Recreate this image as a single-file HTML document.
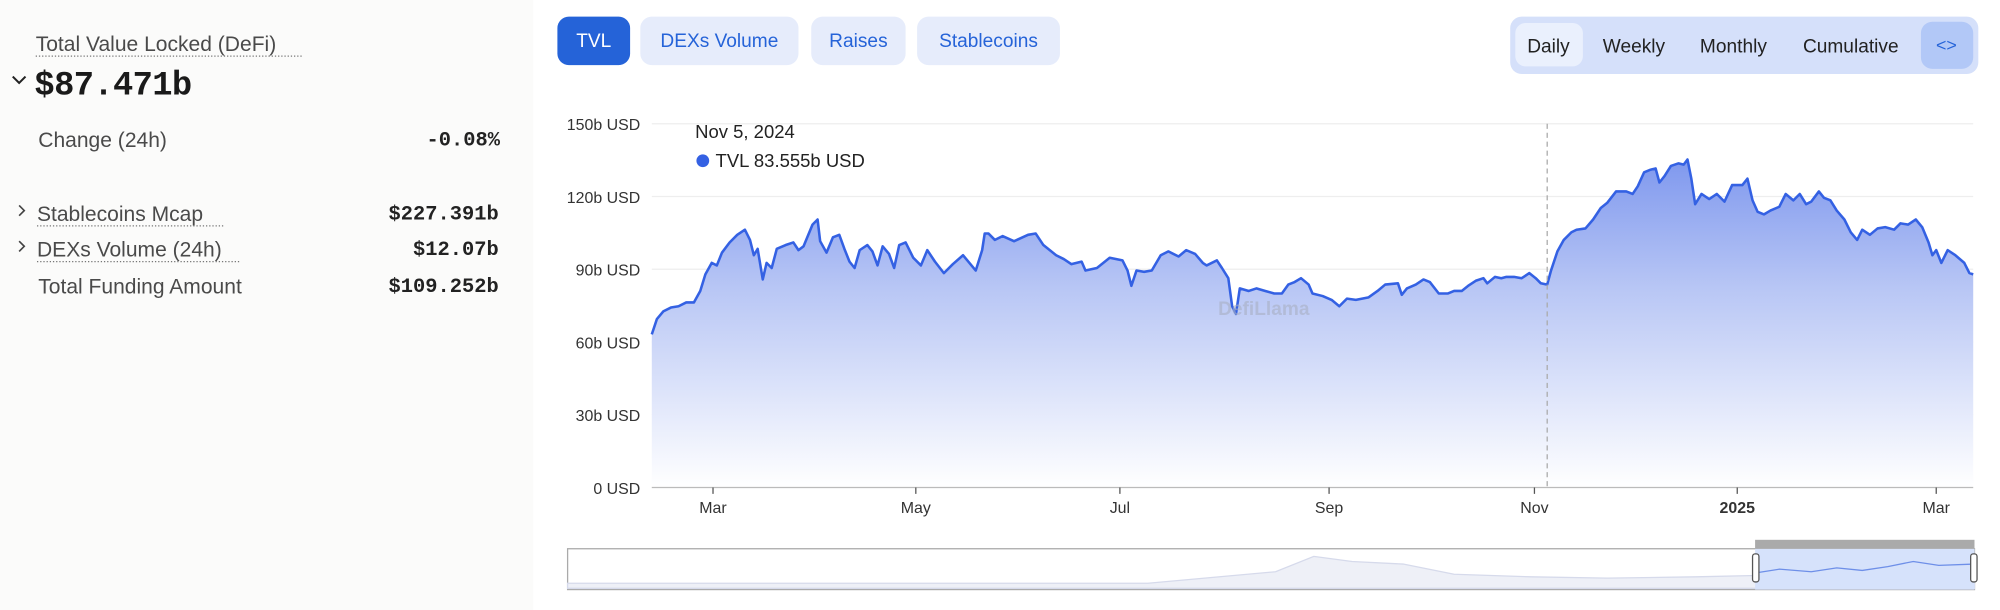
<!DOCTYPE html>
<html><head><meta charset="utf-8"><style>
html,body{margin:0;padding:0;background:#fff;width:2000px;height:610px;overflow:hidden}
svg{display:block}
text{font-family:"Liberation Sans",sans-serif}
.m{font-family:"Liberation Mono",monospace;font-weight:bold}
</style></head><body>
<svg width="2000" height="610" viewBox="0 0 1568 478" preserveAspectRatio="none">
<defs>
<linearGradient id="g" x1="0" y1="0" x2="0" y2="1">
<stop offset="0" stop-color="#7f98ee"/>
<stop offset="0.4" stop-color="#b9c7f5"/>
<stop offset="1" stop-color="#ffffff"/>
</linearGradient>
</defs>
<rect x="0" y="0" width="418" height="478" fill="#fbfbfa"/>
<text x="28" y="40" font-size="16.5" fill="#4a4a4a">Total Value Locked (DeFi)</text>
<line x1="28" y1="44" x2="237" y2="44" stroke="#777" stroke-dasharray="1,1.5"/>
<path d="M10 60 L15 65 L20 60" fill="none" stroke="#222" stroke-width="1.6"/>
<text x="27" y="74" font-size="26.5" class="m" fill="#1a1a1a" letter-spacing="-0.5">$87.471b</text>
<text x="30" y="115" font-size="16.5" fill="#4a4a4a">Change (24h)</text>
<text x="392" y="114" font-size="16" class="m" text-anchor="end" fill="#222">-0.08%</text>
<path d="M15 161 L19 165 L15 169" fill="none" stroke="#444" stroke-width="1.3"/>
<text x="29" y="173" font-size="16.5" fill="#4a4a4a">Stablecoins Mcap</text>
<line x1="29" y1="177" x2="175" y2="177" stroke="#777" stroke-dasharray="1,1.5"/>
<text x="391" y="172" font-size="16" class="m" text-anchor="end" fill="#222">$227.391b</text>
<path d="M15 189 L19 193 L15 197" fill="none" stroke="#444" stroke-width="1.3"/>
<text x="29" y="201" font-size="16.5" fill="#4a4a4a">DEXs Volume (24h)</text>
<line x1="29" y1="205" x2="188" y2="205" stroke="#777" stroke-dasharray="1,1.5"/>
<text x="391" y="200" font-size="16" class="m" text-anchor="end" fill="#222">$12.07b</text>
<text x="30" y="230" font-size="16.5" fill="#4a4a4a">Total Funding Amount</text>
<text x="391" y="229" font-size="16" class="m" text-anchor="end" fill="#222">$109.252b</text>
<rect x="437" y="13" width="57" height="38" rx="9" fill="#2563d8"/>
<text x="465.5" y="37" font-size="15" fill="#fff" text-anchor="middle">TVL</text>
<rect x="502" y="13" width="124" height="38" rx="9" fill="#e6ecfb"/>
<text x="564" y="37" font-size="15" fill="#2563d8" text-anchor="middle">DEXs Volume</text>
<rect x="636" y="13" width="74" height="38" rx="9" fill="#e6ecfb"/>
<text x="673" y="37" font-size="15" fill="#2563d8" text-anchor="middle">Raises</text>
<rect x="719" y="13" width="112" height="38" rx="9" fill="#e6ecfb"/>
<text x="775" y="37" font-size="15" fill="#2563d8" text-anchor="middle">Stablecoins</text>
<rect x="1184" y="13" width="367" height="45" rx="9" fill="#d5e0fa"/>
<rect x="1188" y="18" width="53" height="34" rx="8" fill="#eaf0fd"/>
<text x="1214" y="41" font-size="15" fill="#222" text-anchor="middle">Daily</text>
<text x="1281" y="41" font-size="15" fill="#222" text-anchor="middle">Weekly</text>
<text x="1359" y="41" font-size="15" fill="#222" text-anchor="middle">Monthly</text>
<text x="1451" y="41" font-size="15" fill="#222" text-anchor="middle">Cumulative</text>
<rect x="1506" y="17" width="41" height="37" rx="9" fill="#b2c8f7"/>
<text x="1526" y="40" font-size="14" fill="#2563d8" text-anchor="middle">&lt;&gt;</text>
<g stroke="#eeeeee" stroke-width="1">
<line x1="511" y1="97" x2="1547" y2="97"/><line x1="511" y1="154" x2="1547" y2="154"/>
<line x1="511" y1="211" x2="1547" y2="211"/><line x1="511" y1="268" x2="1547" y2="268"/>
<line x1="511" y1="325" x2="1547" y2="325"/>
</g>
<g font-size="12.5" fill="#333" text-anchor="end">
<text x="502" y="102">150b USD</text><text x="502" y="159">120b USD</text>
<text x="502" y="216">90b USD</text><text x="502" y="273">60b USD</text>
<text x="502" y="330">30b USD</text><text x="502" y="387">0 USD</text>
</g>
<path fill="url(#g)" stroke="none" d="M511,382 L511,262 515,250 520,244 526,241 532,240 538,237 544,237 549,228 553,215 558,206 562,208 566,198 572,190 578,184 584,180 588,188 591,200 594,195 598,219 601,206 605,210 609,195 616,192 622,190 626,196 630,193 637,176 641,172 643,189 648,198 653,186 658,184 662,195 666,205 670,210 674,196 680,192 684,197 688,208 692,193 697,199 701,210 705,192 710,190 716,202 722,208 727,196 733,205 740,214 747,207 755,200 765,212 770,196 772,183 775,183 780,188 786,185 795,189 806,184 812,183 818,192 828,200 834,203 840,207 848,205 851,212 860,210 870,202 880,204 884,212 887,224 891,212 897,213 903,212 910,200 916,197 924,201 930,196 937,199 943,206 946,208 954,204 958,210 963,218 966,240 969,246 972,226 979,228 985,226 992,228 999,230 1005,230 1010,223 1015,221 1020,218 1026,223 1029,230 1037,232 1044,235 1050,240 1056,234 1063,235 1073,233 1080,228 1086,223 1096,222 1099,231 1103,226 1110,223 1116,219 1121,221 1128,230 1135,230 1140,228 1146,228 1151,224 1157,220 1163,218 1166,222 1172,217 1177,218 1181,217 1187,217 1193,218 1199,214 1204,218 1208,222 1213,223 1216,212 1221,197 1226,188 1232,182 1236,180 1243,179 1249,172 1255,163 1260,159 1267,150 1275,150 1280,152 1284,146 1289,135 1294,133 1298,132 1301,143 1305,138 1310,130 1316,128 1320,129 1323,125 1326,140 1329,160 1334,152 1340,156 1346,152 1352,158 1358,145 1366,145 1370,140 1374,157 1378,166 1383,168 1388,165 1395,162 1400,152 1406,157 1411,152 1416,160 1420,158 1426,150 1430,155 1435,157 1440,165 1446,172 1451,182 1456,188 1460,180 1466,184 1472,179 1478,178 1485,180 1490,175 1496,176 1502,172 1507,178 1512,190 1515,200 1518,196 1522,206 1527,196 1533,200 1540,206 1544,214 1547,215 L1547,382 Z"/>
<polyline fill="none" stroke="#3461e3" stroke-width="2" stroke-linejoin="round" points="511,262 515,250 520,244 526,241 532,240 538,237 544,237 549,228 553,215 558,206 562,208 566,198 572,190 578,184 584,180 588,188 591,200 594,195 598,219 601,206 605,210 609,195 616,192 622,190 626,196 630,193 637,176 641,172 643,189 648,198 653,186 658,184 662,195 666,205 670,210 674,196 680,192 684,197 688,208 692,193 697,199 701,210 705,192 710,190 716,202 722,208 727,196 733,205 740,214 747,207 755,200 765,212 770,196 772,183 775,183 780,188 786,185 795,189 806,184 812,183 818,192 828,200 834,203 840,207 848,205 851,212 860,210 870,202 880,204 884,212 887,224 891,212 897,213 903,212 910,200 916,197 924,201 930,196 937,199 943,206 946,208 954,204 958,210 963,218 966,240 969,246 972,226 979,228 985,226 992,228 999,230 1005,230 1010,223 1015,221 1020,218 1026,223 1029,230 1037,232 1044,235 1050,240 1056,234 1063,235 1073,233 1080,228 1086,223 1096,222 1099,231 1103,226 1110,223 1116,219 1121,221 1128,230 1135,230 1140,228 1146,228 1151,224 1157,220 1163,218 1166,222 1172,217 1177,218 1181,217 1187,217 1193,218 1199,214 1204,218 1208,222 1213,223 1216,212 1221,197 1226,188 1232,182 1236,180 1243,179 1249,172 1255,163 1260,159 1267,150 1275,150 1280,152 1284,146 1289,135 1294,133 1298,132 1301,143 1305,138 1310,130 1316,128 1320,129 1323,125 1326,140 1329,160 1334,152 1340,156 1346,152 1352,158 1358,145 1366,145 1370,140 1374,157 1378,166 1383,168 1388,165 1395,162 1400,152 1406,157 1411,152 1416,160 1420,158 1426,150 1430,155 1435,157 1440,165 1446,172 1451,182 1456,188 1460,180 1466,184 1472,179 1478,178 1485,180 1490,175 1496,176 1502,172 1507,178 1512,190 1515,200 1518,196 1522,206 1527,196 1533,200 1540,206 1544,214 1547,215"/>
<text x="955" y="247" font-size="15" font-weight="bold" fill="#a9b0c4" opacity="0.6">DefiLlama</text>
<line x1="1213" y1="97" x2="1213" y2="382" stroke="#aaa" stroke-dasharray="4,3"/>
<line x1="511" y1="382" x2="1547" y2="382" stroke="#bbb"/>
<g stroke="#555"><line x1="559" y1="382" x2="559" y2="387"/><line x1="718" y1="382" x2="718" y2="387"/><line x1="878" y1="382" x2="878" y2="387"/><line x1="1042" y1="382" x2="1042" y2="387"/><line x1="1203" y1="382" x2="1203" y2="387"/><line x1="1362" y1="382" x2="1362" y2="387"/><line x1="1518" y1="382" x2="1518" y2="387"/></g>
<g font-size="12.5" fill="#333" text-anchor="middle">
<text x="559" y="402">Mar</text><text x="718" y="402">May</text><text x="878" y="402">Jul</text>
<text x="1042" y="402">Sep</text><text x="1203" y="402">Nov</text>
<text x="1362" y="402" font-weight="bold">2025</text><text x="1518" y="402">Mar</text>
</g>
<text x="545" y="108" font-size="14.5" fill="#222">Nov 5, 2024</text>
<circle cx="551" cy="126" r="5" fill="#3461e3"/>
<text x="561" y="131" font-size="14.5" fill="#222">TVL  83.555b USD</text>
<rect x="445" y="430" width="1103" height="32" fill="#fff" stroke="#aaa"/>
<path d="M445,461 L445,457 900,457 1000,448 1030,436 1060,440 1100,442 1140,450 1200,452 1260,453 1330,452 1376,451 1400,447 1450,449 1500,440 1548,442 L1548,461 Z" fill="#eef0f7" stroke="#d6daeb"/>
<rect x="1376" y="430" width="172" height="32" fill="#d6e2fb"/>
<polyline fill="none" stroke="#6e8fe8" points="1376,449 1395,446 1420,448 1440,445 1460,447 1480,444 1500,440 1520,443 1548,442"/>
<rect x="1376" y="423" width="172" height="7" fill="#aaa"/>
<rect x="1374" y="434" width="5" height="22" rx="2" fill="#fff" stroke="#555"/>
<rect x="1545" y="434" width="5" height="22" rx="2" fill="#fff" stroke="#555"/>
</svg>
</body></html>
